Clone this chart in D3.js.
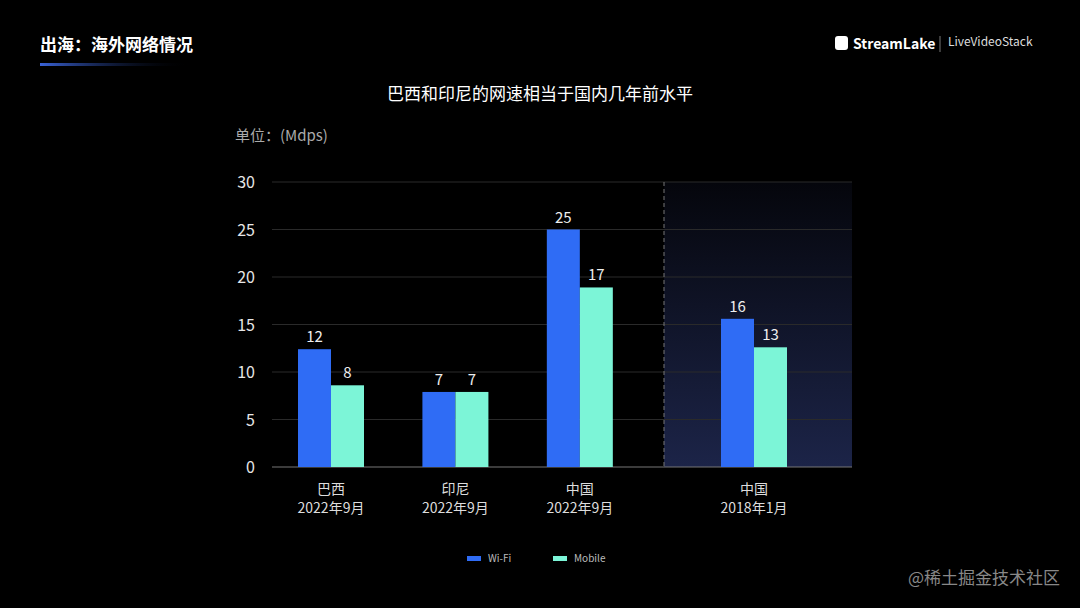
<!DOCTYPE html><html><head><meta charset="utf-8">
<script src="https://cdn.jsdelivr.net/npm/d3@7"></script>
<style>body{margin:0;background:#000}svg{display:block}text{font-family:"Noto Sans CJK SC","Noto Sans",sans-serif}</style></head><body>
<svg id="c" width="1080" height="608"></svg>
<script>
const categories=["巴西","印尼","中国","中国"];
const periods=["2022年9月","2022年9月","2022年9月","2018年1月"];
const slots=[0,1,2,3.4];
const wifi=[12.4,7.9,25.0,15.6];
const mobile=[8.6,7.9,18.9,12.6];
const wifiLabels=["12","7","25","16"];
const mobileLabels=["8","7","17","13"];
const yTicks=[0,5,10,15,20,25,30];
const seriesNames=["Wi-Fi","Mobile"];
const colors=["#2f6cf5","#7cf5d7"];

const svg=d3.select("#c");
const defs=svg.append("defs");
const hg=defs.append("linearGradient").attr("id","hg");
hg.append("stop").attr("offset","0").attr("stop-color","#3a63d8");
hg.append("stop").attr("offset","1").attr("stop-color","#000").attr("stop-opacity",0);
const bg=defs.append("linearGradient").attr("id","bg").attr("x1",0).attr("x2",0).attr("y1",0).attr("y2",1);
bg.append("stop").attr("offset","0").attr("stop-color","#05060c");
bg.append("stop").attr("offset","1").attr("stop-color","#1c2448");

svg.append("text").attr("x",40).attr("y",51).attr("fill","#fff").attr("font-size",17).attr("font-weight","bold").text("出海：海外网络情况");
svg.append("rect").attr("x",40).attr("y",63).attr("width",150).attr("height",3).attr("fill","url(#hg)");
svg.append("text").attr("x",853).attr("y",49).attr("fill","#fff").attr("font-size",14).attr("font-weight","bold").text("StreamLake");
svg.append("rect").attr("x",835).attr("y",36).attr("width",13).attr("height",14).attr("rx",3).attr("fill","#fff");
svg.append("line").attr("x1",940).attr("x2",940).attr("y1",36).attr("y2",52).attr("stroke","#777");
svg.append("text").attr("x",948).attr("y",46).attr("fill","#ddd").attr("font-size",12).text("LiveVideoStack");
svg.append("text").attr("x",540).attr("y",100).attr("fill","#fff").attr("font-size",17).attr("text-anchor","middle").text("巴西和印尼的网速相当于国内几年前水平");
svg.append("text").attr("x",235).attr("y",141).attr("fill","#aaa").attr("font-size",15).text("单位：(Mdps)");

const x=d3.scaleLinear().domain([0,3.4]).range([331,754]);
const y=d3.scaleLinear().domain([0,30]).range([467,182]);
const left=272,right=852,split=664,bw=33;

svg.append("rect").attr("x",split).attr("y",y(30)).attr("width",right-split).attr("height",y(0)-y(30)).attr("fill","url(#bg)");
svg.append("g").selectAll("line").data(yTicks).join("line").attr("x1",left).attr("x2",right)
 .attr("y1",d=>y(d)).attr("y2",d=>y(d)).attr("stroke",d=>d===0?"#777":"#2a2a2a");
svg.append("g").selectAll("text").data(yTicks).join("text").attr("x",255).attr("y",d=>y(d)+6)
 .attr("text-anchor","end").attr("fill","#e6e6e6").attr("font-size",16).text(d=>d);
svg.append("line").attr("x1",split).attr("x2",split).attr("y1",y(30)).attr("y2",y(0)).attr("stroke","#777").attr("stroke-dasharray","4,3");

[[wifi,wifiLabels,-1],[mobile,mobileLabels,0]].forEach(([vals,labs,off],s)=>{
 const g=svg.append("g");
 g.selectAll("rect").data(vals).join("rect").attr("x",(d,i)=>x(slots[i])+off*bw).attr("width",bw)
  .attr("y",d=>y(d)).attr("height",d=>y(0)-y(d)).attr("fill",colors[s]);
 g.selectAll("text").data(vals).join("text").attr("x",(d,i)=>x(slots[i])+off*bw+bw/2).attr("y",d=>y(d)-7)
  .attr("text-anchor","middle").attr("fill","#eee").attr("font-size",15).text((d,i)=>labs[i]);
});
const cl=svg.append("g");
cl.selectAll("text.a").data(categories).join("text").attr("class","a").attr("x",(d,i)=>x(slots[i])).attr("y",494)
 .attr("text-anchor","middle").attr("fill","#ddd").attr("font-size",14).text(d=>d);
cl.selectAll("text.b").data(periods).join("text").attr("class","b").attr("x",(d,i)=>x(slots[i])).attr("y",513)
 .attr("text-anchor","middle").attr("fill","#ddd").attr("font-size",14).text(d=>d);

const lg=svg.append("g");
seriesNames.forEach((n,i)=>{
 const lx=[467,553][i];
 lg.append("rect").attr("x",lx).attr("y",556).attr("width",14).attr("height",5).attr("fill",colors[i]);
 lg.append("text").attr("x",lx+21).attr("y",562).attr("fill","#bbb").attr("font-size",10).text(n);
});
svg.append("text").attr("x",1060).attr("y",584).attr("text-anchor","end").attr("fill","#888").attr("font-size",17).text("@稀土掘金技术社区");
</script></body></html>
